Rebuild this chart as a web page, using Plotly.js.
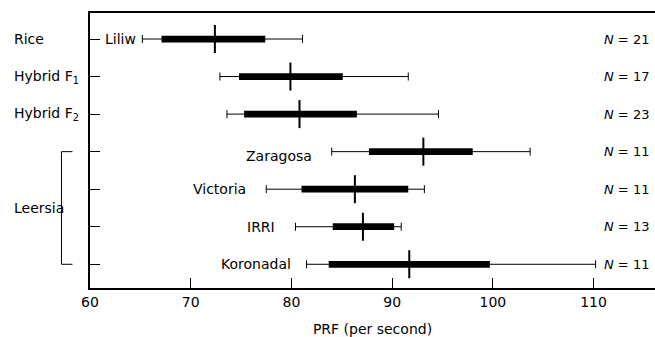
<!DOCTYPE html>
<html>
<head>
<meta charset="utf-8">
<script src="https://cdn.plot.ly/plotly-3.0.1.min.js"></script>
<style>html,body{margin:0;padding:0;background:#fff;}#chart{width:655px;height:337px;}</style>
</head>
<body>
<div id="chart"></div>
<script>
// ---- data ----
const groups   = ['Rice', 'Hybrid F<sub>1</sub>', 'Hybrid F<sub>2</sub>'];
const strains  = ['Liliw', '', '', 'Zaragosa', 'Victoria', 'IRRI', 'Koronadal'];
const lowVals  = [65.2, 72.9, 73.6, 84.0, 77.5, 80.4, 81.5];
const q1Vals   = [67.1, 74.8, 75.3, 87.7, 81.0, 84.1, 83.7];
const meanVals = [72.4, 79.9, 80.8, 93.1, 86.3, 87.1, 91.7];
const q3Vals   = [77.4, 85.1, 86.5, 98.0, 91.6, 90.2, 99.7];
const highVals = [81.1, 91.6, 94.6, 103.7, 93.2, 90.9, 110.2];
const nCounts  = [21, 17, 23, 11, 11, 13, 11];
const xTicks   = [60, 70, 80, 90, 100, 110];
const groupLabel = 'Leersia';
const xTitle = 'PRF (per second)';

// ---- build ----
const n = strains.length;
const ypos = strains.map((_, i) => n - i);
const font = {family: 'DejaVu Sans, sans-serif', size: 14, color: '#000'};

const traces = [
  { type: 'bar', orientation: 'h', y: ypos,
    x: q1Vals.map((v, i) => q3Vals[i] - v), base: q1Vals,
    width: 0.18, marker: {color: '#000'}, hoverinfo: 'skip', showlegend: false },
  { type: 'scatter', mode: 'markers', y: ypos, x: meanVals,
    marker: {symbol: 'line-ns', size: 20, color: '#000', line: {width: 2, color: '#000'}},
    error_x: { type: 'data', symmetric: false,
      array: highVals.map((v, i) => v - meanVals[i]),
      arrayminus: meanVals.map((v, i) => v - lowVals[i]),
      color: '#000', thickness: 1, width: 4 },
    showlegend: false }
];

const labelShift = [-4, 0, 0, -18, -18, -18, -14];
const annotations = [];
strains.forEach((s, i) => {
  if (s) annotations.push({ x: lowVals[i], y: ypos[i], xref: 'x', yref: 'y', text: s,
    showarrow: false, xanchor: 'right', xshift: labelShift[i], yshift: i === 3 ? -4 : 0, font: font });
  annotations.push({ x: 0.906, y: ypos[i], xref: 'paper', yref: 'y',
    text: '<i>N</i> = ' + nCounts[i], showarrow: false, xanchor: 'left', font: {...font, size: 13} });
});
groups.forEach((g, i) => {
  annotations.push({ x: -0.1373, y: ypos[i], xref: 'paper', yref: 'y', text: g,
    showarrow: false, xanchor: 'left', font: font });
});
annotations.push({ x: -0.1373, y: (ypos[3] + ypos[6]) / 2, xref: 'paper', yref: 'y',
  text: groupLabel, showarrow: false, xanchor: 'left', font: font });

const bx0 = (62 - 90.5) / 564.5, bx1 = (73 - 90.5) / 564.5;
const shapes = [{
  type: 'path', xref: 'paper', yref: 'y',
  path: `M ${bx1} ${ypos[3]} L ${bx0} ${ypos[3]} L ${bx0} ${ypos[6]} L ${bx1} ${ypos[6]}`,
  line: {color: '#000', width: 1}
}];

const layout = {
  width: 655, height: 337,
  margin: {l: 90, r: 0, t: 13, b: 49},
  paper_bgcolor: '#fff', plot_bgcolor: '#fff',
  font: font,
  barmode: 'overlay',
  xaxis: {
    range: [60, 116.1], tickvals: xTicks, ticktext: xTicks.map(String),
    ticks: 'inside', ticklen: 10, tickwidth: 1, tickcolor: '#000',
    showline: true, linecolor: '#000', linewidth: 2, mirror: true,
    showgrid: false, zeroline: false, tickfont: font,
    title: {text: xTitle, font: font, standoff: 18}
  },
  yaxis: {
    range: [0.368, 7.693], tickvals: ypos, showticklabels: false,
    ticks: 'inside', ticklen: 10, tickwidth: 1, tickcolor: '#000',
    showline: true, linecolor: '#000', linewidth: 2,
    showgrid: false, zeroline: false
  },
  annotations: annotations,
  shapes: shapes
};

Plotly.newPlot('chart', traces, layout, {displayModeBar: false, staticPlot: true});
</script>
</body>
</html>
